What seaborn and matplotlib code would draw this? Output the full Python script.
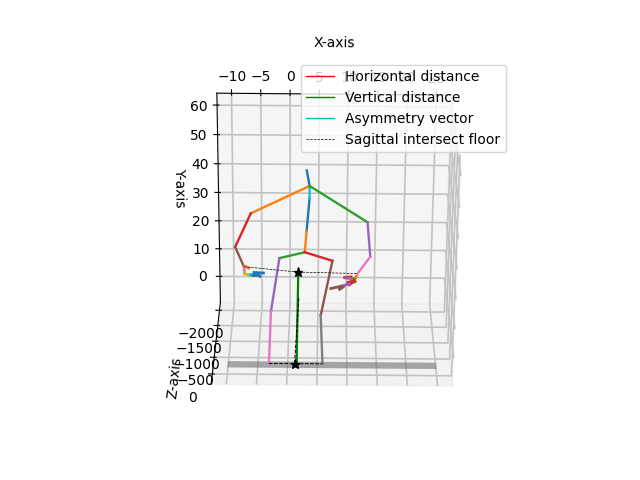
import matplotlib
matplotlib.use("Agg")
import matplotlib.pyplot as plt
import numpy as np
import seaborn as sns

# joint coordinates
joint_x = [2.9, 3.4, 3.4, 2.9, 2.6, -1.9, 7.5, -6.9, 13.6, -9.7, 14.2, -8.2, 12.0,
           -3.3, 5.5, -3.1, 5.9]
joint_y = [38.2, 32.8, 28.3, 16.8, 9.3, 7.1, 6.3, 23.0, 20.2, 11.0, 7.9, 3.9, 1.75,
           -8, -8, -8, -8]
joint_z = [-2240]*13 + [-1840, -1718, -200, -200]
bones = [(2, 3), (4, 3), (4, 5), (4, 6), (5, 13), (6, 14), (13, 15), (14, 16),
         (11, 11), (2, 1), (1, 0), (1, 7), (1, 8), (7, 9), (8, 10), (9, 11), (10, 12)]

# hand finger segments: x0, x1, y0, y1, palette index
hand_x0 = [-8.2, -8.17, -7.09, -6.41, -6.24, -6.58, -7.9,
           11.82, 11.4, 11.01, 11.4, 11.13, 10.55, 9.99, 9.13, 9.42, 9.7, 10.84]
hand_x1 = [-8.1, -7.04, -6.24, -4.75, -5.33, -5.56, -7.32,
           11.58, 11.13, 11.58, 10.28, 10.55, 9.13, 8.74, 7.25, 8.84, 10.84, 9.99]
hand_y0 = [3.85, 1.4, 1.05, 1.86, 1.23, 0.7, 3.96,
           0.85, -0.1, -0.55, -0.9, -1.5, -2.06, -2.4, -2.9, -3.25, 0.25, -0.1]
hand_y1 = [1.75, 0.7, 1.4, 1.65, 0.45, 0.88, 3.4,
           -0.3, -1.25, -1.25, -1.5, -2.4, -2.9, -3.6, -3.8, -4.06, 0.5, 0.05]
hand_c = [6, 8, 9, 0, 0, 0, 1, 1, 2, 2, 3, 3, 4, 4, 5, 5, 3, 4]

star_x = [1.4, 1.2]
star_y = [2.1, -8]
star_z = [-2240, -200]
vert_x = [1.45, 1.55]
sag_x = [1.2, 1.6]
sag_y = [-8, -5]
sag_z = [-200, -2066]
floor_x = [-10, 25]
floor_z = [-260, -70]
floor_y = -8

pal = sns.color_palette("tab10")
sns.set_palette(pal)
plt.rcParams["grid.linewidth"] = 1.2
plt.rcParams["grid.color"] = "#c2c2c2"
fig = plt.figure()
ax = fig.add_subplot(projection="3d")
ax.computed_zorder = False
for a, b in bones:
    ax.plot([joint_x[a], joint_x[b]], [joint_y[a], joint_y[b]], [joint_z[a], joint_z[b]], lw=1.7)
for x0, x1, y0, y1, c in zip(hand_x0, hand_x1, hand_y0, hand_y1, hand_c):
    ax.plot([x0, x1], [y0, y1], [-2240, -2240], color=pal[c], lw=2)

ax.plot([star_x[1], vert_x[1]], [star_y[1]]*2, [star_z[1]]*2, "r-", lw=1, label="Horizontal distance")
ax.plot(vert_x, star_y, star_z, "g-", lw=1, label="Vertical distance")
ax.plot(vert_x, star_y, star_z, "g-", lw=1.6)
ax.plot(star_x[:1]*2, star_y[:1]*2, star_z[:1]*2, "c-", lw=1, label="Asymmetry vector")
ax.plot([joint_x[11], star_x[0], joint_x[12]], [joint_y[11], star_y[0], joint_y[12]], [-2240]*3,
        "k--", lw=0.5, label="Sagittal intersect floor")
ax.plot([joint_x[15], star_x[1], joint_x[16]], [-8]*3, [-200, -200, -200], "k--", lw=0.7)
ax.plot(sag_x, sag_y, sag_z, "k--", lw=0.7)
ax.plot(star_x, star_y, star_z, "k*", ms=6.5)
X, Z = np.meshgrid(floor_x, floor_z)
ax.plot_surface(X, np.full_like(X, floor_y, dtype=float), Z, color="gray", alpha=0.6)

ax.set_xlim(-12.5, 27.5)
ax.set_ylim(-9.5, 64)
ax.set_zlim(-2270, 300)
ax.set_xlabel("X-axis")
ax.set_ylabel("Y-axis")
ax.set_zlabel("Z-axis")
ax.view_init(elev=115, azim=-89.5)
ax.legend()
fig.savefig("out.png", dpi=100)
